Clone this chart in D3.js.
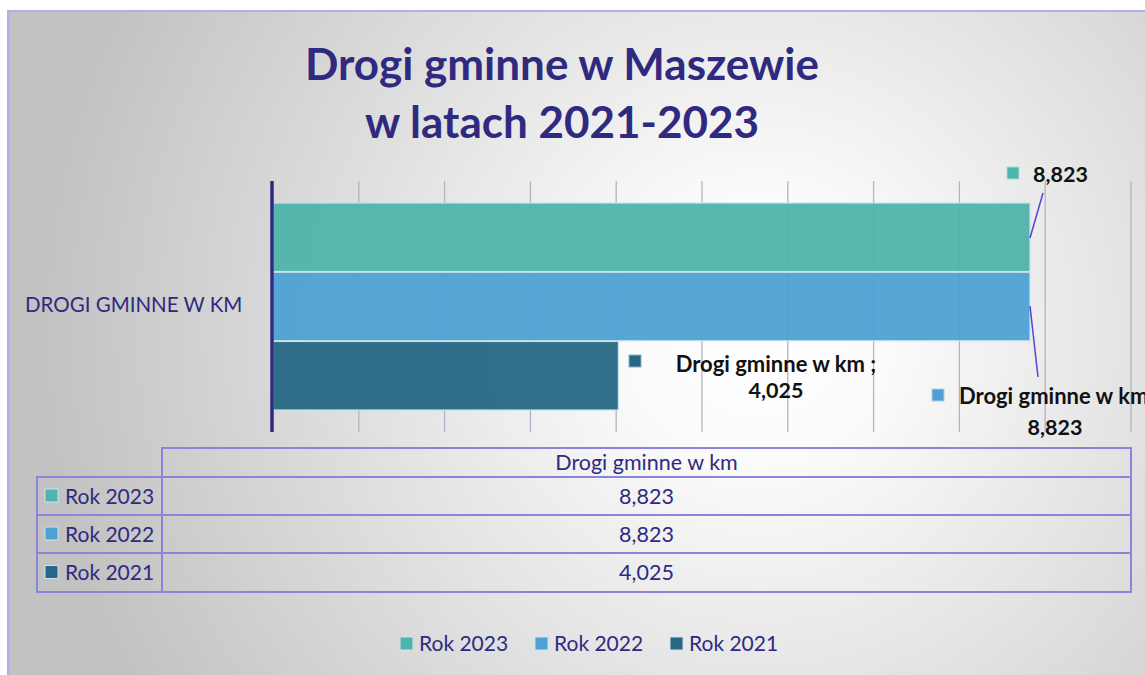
<!DOCTYPE html>
<html>
<head>
<meta charset="utf-8">
<script src="https://cdn.jsdelivr.net/npm/d3@7"></script>
<style>
  html, body { margin: 0; padding: 0; background: #ffffff; overflow: hidden; }
  svg { display: block; }
  text { font-family: Lato, "Open Sans", sans-serif; }
</style>
</head>
<body>
<svg id="chart" width="1145" height="675"></svg>
<script>
// Road lengths (km) per year, single category
const category = "DROGI GMINNE W KM";
const seriesName = "Drogi gminne w km";
const years = ["Rok 2023", "Rok 2022", "Rok 2021"];
const values = [8.823, 8.823, 4.025];
const colors = ["#4fb4ab", "#4fa1d4", "#276785"];
const xTicks = [0, 1, 2, 3, 4, 5, 6, 7, 8, 9, 10];
const titleLines = ["Drogi gminne w Maszewie", "w latach 2021-2023"];

const fmt = v => d3.format(",.3f")(v).replace(".", ",");

const svg = d3.select("#chart");
const navy = "#2f2a80";
const frame = "#8c84dc";

// background
const defs = svg.append("defs");
const grad = defs.append("radialGradient").attr("id", "bg")
  .attr("gradientUnits", "userSpaceOnUse")
  .attr("cx", 760).attr("cy", 330).attr("r", 720);
grad.append("stop").attr("offset", "0%").attr("stop-color", "#ffffff");
grad.append("stop").attr("offset", "18%").attr("stop-color", "#fbfbfb");
grad.append("stop").attr("offset", "100%").attr("stop-color", "#c2c2c2");

svg.append("rect").attr("x", 8).attr("y", 11).attr("width", 1160).attr("height", 700)
  .attr("fill", "url(#bg)").attr("stroke", "#b3acee").attr("stroke-width", 2);

// title
svg.append("text").attr("text-anchor", "middle").attr("fill", navy)
  .attr("font-weight", "bold").attr("font-size", 44)
  .selectAll("tspan").data(titleLines).join("tspan")
  .attr("x", 562).attr("y", (d, i) => 80 + i * 58).text(d => d);

// scales
const x = d3.scaleLinear().domain([0, 10]).range([273, 1131]);
const y = d3.scaleBand().domain(years).range([203, 410]).paddingInner(0.01);

// gridlines
svg.append("g").selectAll("line").data(xTicks.slice(1)).join("line")
  .attr("x1", d => x(d)).attr("x2", d => x(d))
  .attr("y1", 181).attr("y2", 432)
  .attr("stroke", "#b4b2c4").attr("stroke-width", 1.3);

// bars
svg.append("g").selectAll("rect").data(values).join("rect")
  .attr("x", x(0)).attr("y", (d, i) => y(years[i]))
  .attr("width", d => x(d) - x(0)).attr("height", y.bandwidth())
  .attr("fill", (d, i) => colors[i]).attr("fill-opacity", 0.95)
  .attr("stroke", "#c9e2ec").attr("stroke-width", 1.2);

// category axis
svg.append("line").attr("x1", 272).attr("x2", 272).attr("y1", 181).attr("y2", 432)
  .attr("stroke", navy).attr("stroke-width", 3.5);
svg.append("text").attr("x", 25).attr("y", 312).attr("fill", navy)
  .attr("font-size", 20.5).text(category);

// data labels
const lab = svg.append("g").attr("font-weight", "bold").attr("fill", "#111");
const leader = "#5544d4";
// 2023
lab.append("rect").attr("x", 1007).attr("y", 167).attr("width", 12).attr("height", 12)
  .attr("fill", colors[0]).attr("stroke", "#a8dcd6");
lab.append("text").attr("x", 1033).attr("y", 182).attr("font-size", 21.5).text(fmt(values[0]));
svg.append("line").attr("x1", 1043).attr("y1", 193).attr("x2", x(values[0])).attr("y2", 238)
  .attr("stroke", leader).attr("stroke-width", 1.5);
// 2022
lab.append("rect").attr("x", 932).attr("y", 389).attr("width", 12).attr("height", 12)
  .attr("fill", colors[1]).attr("stroke", "#a8d0ec");
lab.append("text").attr("x", 959).attr("y", 404).attr("font-size", 22).text(seriesName);
lab.append("text").attr("x", 1055).attr("y", 435).attr("text-anchor", "middle")
  .attr("font-size", 21.5).text(fmt(values[1]));
svg.append("line").attr("x1", x(values[1])).attr("y1", 306).attr("x2", 1038).attr("y2", 377)
  .attr("stroke", leader).attr("stroke-width", 1.5);
// 2021
lab.append("rect").attr("x", 629).attr("y", 355).attr("width", 12).attr("height", 12)
  .attr("fill", colors[2]).attr("stroke", "#8fb0c2");
lab.append("text").attr("x", 776).attr("y", 372).attr("text-anchor", "middle")
  .attr("font-size", 22).text(seriesName + " ;");
lab.append("text").attr("x", 776).attr("y", 398).attr("text-anchor", "middle")
  .attr("font-size", 21.5).text(fmt(values[2]));

// data table
const tbl = svg.append("g");
const colX0 = 37, colX1 = 162, colX2 = 1131;
const rowY = [448, 477, 515, 553, 592];
tbl.append("rect").attr("x", colX1).attr("y", rowY[0]).attr("width", colX2 - colX1)
  .attr("height", rowY[4] - rowY[0]).attr("fill", "none").attr("stroke", frame).attr("stroke-width", 2);
tbl.append("rect").attr("x", colX0).attr("y", rowY[1]).attr("width", colX1 - colX0)
  .attr("height", rowY[4] - rowY[1]).attr("fill", "none").attr("stroke", frame).attr("stroke-width", 2);
tbl.selectAll("line.h").data(rowY.slice(1, 4)).join("line")
  .attr("x1", colX0).attr("x2", colX2).attr("y1", d => d).attr("y2", d => d)
  .attr("stroke", frame).attr("stroke-width", 2);
tbl.append("text").attr("x", (colX1 + colX2) / 2).attr("y", 470).attr("text-anchor", "middle")
  .attr("fill", navy).attr("font-size", 21.5).text(seriesName);
years.forEach((yr, i) => {
  const cy = (rowY[i + 1] + rowY[i + 2]) / 2;
  tbl.append("rect").attr("x", 45).attr("y", cy - 7).attr("width", 13).attr("height", 13)
    .attr("fill", colors[i]).attr("stroke", "#d0e4ec");
  tbl.append("text").attr("x", 65).attr("y", cy + 7.5).attr("fill", navy)
    .attr("font-size", 21).text(yr);
  tbl.append("text").attr("x", (colX1 + colX2) / 2).attr("y", cy + 7.5).attr("text-anchor", "middle")
    .attr("fill", navy).attr("font-size", 21.5).text(fmt(values[i]));
});

// legend
const legX = [400, 535, 670];
const leg = svg.append("g");
years.forEach((yr, i) => {
  leg.append("rect").attr("x", legX[i]).attr("y", 637).attr("width", 13).attr("height", 13)
    .attr("fill", colors[i]).attr("stroke", "#d0e4ec");
  leg.append("text").attr("x", legX[i] + 19).attr("y", 651).attr("fill", navy)
    .attr("font-size", 21).text(yr);
});
</script>
</body>
</html>
